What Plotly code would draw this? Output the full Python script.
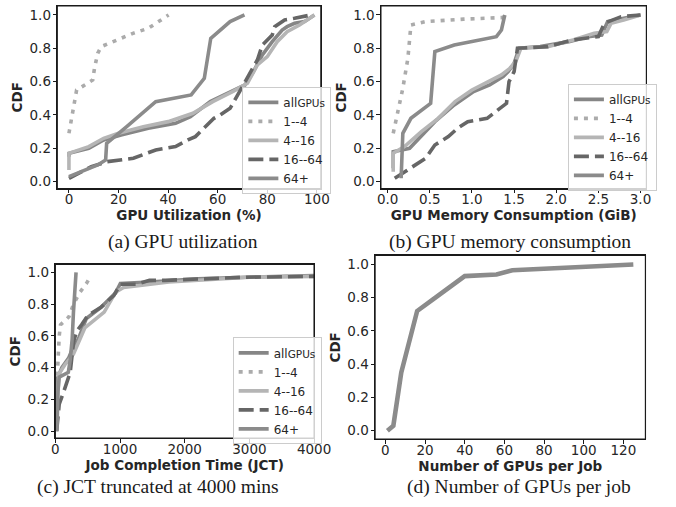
import plotly.graph_objects as go

# ---------------- data ----------------
series_names = ["all<span style='font-size:10.5px'>GPUs</span>", "1--4", "4--16", "16--64", "64+"]

# (a) GPU utilization (%)
a_all_x = [0, 0, 8, 14, 21, 32, 43, 49, 57, 65, 71, 74, 78, 82, 86, 88, 91, 95, 99]
a_all_y = [0.15, 0.17, 0.20, 0.25, 0.28, 0.32, 0.35, 0.39, 0.48, 0.54, 0.58, 0.65, 0.76, 0.84, 0.91, 0.93, 0.95, 0.96, 1.0]
a_1_4_x = [0, 1.8, 3.1, 6.4, 9.6, 10.3, 11.6, 13, 18, 25.8, 32, 40.2]
a_1_4_y = [0.29, 0.45, 0.55, 0.58, 0.61, 0.68, 0.77, 0.81, 0.84, 0.89, 0.92, 1.0]
a_4_16_x = [0, 0, 2, 8, 14, 20, 30, 40, 50, 58, 66, 72, 76, 80, 84, 88, 93, 99]
a_4_16_y = [0.07, 0.17, 0.18, 0.21, 0.26, 0.29, 0.33, 0.36, 0.41, 0.48, 0.54, 0.59, 0.70, 0.75, 0.84, 0.90, 0.94, 1.0]
a_16_64_x = [0, 9, 15.5, 26, 35, 43, 48, 51, 58.5, 61, 65, 68, 72, 76, 78, 82, 83, 87, 91, 97.5]
a_16_64_y = [0.02, 0.09, 0.12, 0.14, 0.19, 0.21, 0.25, 0.27, 0.38, 0.40, 0.44, 0.52, 0.62, 0.73, 0.82, 0.88, 0.93, 0.97, 0.98, 1.0]
a_64_x = [0, 11.6, 14.8, 15.2, 23.3, 35, 49.3, 51.3, 54.6, 57.2, 65, 70.8]
a_64_y = [0.03, 0.10, 0.13, 0.23, 0.33, 0.48, 0.52, 0.56, 0.62, 0.86, 0.96, 1.0]

# (b) GPU memory consumption (GiB)
b_all_x = [0.066, 0.066, 0.26, 0.56, 0.79, 1.02, 1.21, 1.37, 1.43, 1.50, 1.56, 1.81, 2.15, 2.38, 2.54, 2.61, 2.8, 3.0]
b_all_y = [0.08, 0.18, 0.20, 0.36, 0.46, 0.54, 0.58, 0.63, 0.66, 0.71, 0.80, 0.81, 0.84, 0.87, 0.88, 0.96, 0.98, 1.0]
b_1_4_x = [0.066, 0.12, 0.18, 0.24, 0.276, 0.45, 0.9, 1.37, 1.39]
b_1_4_y = [0.29, 0.42, 0.56, 0.74, 0.94, 0.96, 0.975, 0.985, 1.0]
b_4_16_x = [0.066, 0.066, 0.2, 0.4, 0.6, 0.8, 1.0, 1.2, 1.35, 1.45, 1.52, 1.58, 1.9, 2.2, 2.45, 2.6, 2.65, 2.8, 3.0]
b_4_16_y = [0.06, 0.17, 0.21, 0.30, 0.38, 0.48, 0.55, 0.60, 0.64, 0.68, 0.72, 0.80, 0.81, 0.85, 0.89, 0.90, 0.95, 0.97, 1.0]
b_16_64_x = [0.084, 0.18, 0.26, 0.45, 0.56, 0.72, 0.83, 0.95, 1.18, 1.33, 1.41, 1.44, 1.50, 1.54, 1.9, 2.19, 2.50, 2.57, 2.77, 3.0]
b_16_64_y = [0.02, 0.05, 0.08, 0.14, 0.22, 0.27, 0.32, 0.36, 0.38, 0.44, 0.47, 0.60, 0.66, 0.80, 0.81, 0.85, 0.87, 0.95, 0.99, 1.0]
b_64_x = [0.16, 0.18, 0.276, 0.51, 0.56, 0.79, 1.29, 1.35, 1.39]
b_64_y = [0.02, 0.29, 0.38, 0.47, 0.78, 0.82, 0.87, 0.91, 1.0]

# (c) JCT truncated at 4000 mins
c_all_x = [10, 30, 100, 205, 255, 355, 480, 705, 930, 1005, 1455, 2200, 2950, 4000]
c_all_y = [0.0, 0.33, 0.40, 0.46, 0.51, 0.58, 0.71, 0.78, 0.87, 0.93, 0.94, 0.96, 0.97, 0.98]
c_1_4_x = [30, 40, 50, 60, 80, 150, 210, 280, 380, 480, 550]
c_1_4_y = [0.35, 0.46, 0.53, 0.60, 0.67, 0.70, 0.72, 0.80, 0.875, 0.93, 0.98]
c_4_16_x = [10, 55, 150, 280, 455, 530, 755, 930, 1055, 1755, 2500, 3000, 4000]
c_4_16_y = [0.0, 0.36, 0.42, 0.485, 0.65, 0.675, 0.75, 0.875, 0.905, 0.94, 0.955, 0.97, 0.975]
c_16_64_x = [20, 60, 130, 205, 230, 280, 330, 405, 505, 705, 905, 1005, 1255, 1455, 1700, 2950, 4000]
c_16_64_y = [0.0, 0.17, 0.25, 0.34, 0.37, 0.56, 0.63, 0.67, 0.73, 0.78, 0.855, 0.925, 0.925, 0.95, 0.95, 0.97, 0.975]
c_64_x = [25, 40, 60, 200, 230, 260, 280, 300, 320]
c_64_y = [0.0, 0.25, 0.34, 0.37, 0.45, 0.58, 0.75, 0.92, 1.0]

# (d) Number of GPUs per job
d_x = [1, 4, 8, 16, 24, 32, 40, 56, 64, 125]
d_y = [0.0, 0.03, 0.35, 0.72, 0.79, 0.86, 0.93, 0.94, 0.965, 1.0]

x_titles = ["GPU Utilization (%)", "GPU Memory Consumption (GiB)",
            "Job Completion Time (JCT)", "Number of GPUs per Job"]
captions = ["(a) GPU utilization", "(b) GPU memory consumption",
            "(c) JCT truncated at 4000 mins", "(d) Number of GPUs per job"]

# ---------------- styles ----------------
W, H = 676, 507
LW = 3.6
styles = [
    dict(color="#868686", width=LW, dash="solid"),
    dict(color="#ababab", width=LW, dash="4px,6px"),
    dict(color="#b5b5b5", width=LW, dash="solid"),
    dict(color="#666666", width=LW, dash="15px,6px"),
    dict(color="#8b8b8b", width=LW, dash="solid"),
]

def dx(l, r):
    return [l / W, r / W]

def dy(t, b):
    return [(H - b) / H, (H - t) / H]

fig = go.Figure()

panels = [
    ("x", "y", "legend", [(a_all_x, a_all_y), (a_1_4_x, a_1_4_y), (a_4_16_x, a_4_16_y), (a_16_64_x, a_16_64_y), (a_64_x, a_64_y)]),
    ("x2", "y2", "legend2", [(b_all_x, b_all_y), (b_1_4_x, b_1_4_y), (b_4_16_x, b_4_16_y), (b_16_64_x, b_16_64_y), (b_64_x, b_64_y)]),
    ("x3", "y3", "legend3", [(c_all_x, c_all_y), (c_1_4_x, c_1_4_y), (c_4_16_x, c_4_16_y), (c_16_64_x, c_16_64_y), (c_64_x, c_64_y)]),
]
for xa, ya, lg, data in panels:
    for name, (xs, ys), st in zip(series_names, data, styles):
        fig.add_trace(go.Scatter(x=xs, y=ys, mode="lines", name=name, line=st,
                                 xaxis=xa, yaxis=ya, legend=lg, showlegend=True))

fig.add_trace(go.Scatter(x=d_x, y=d_y, mode="lines", line=dict(color="#8b8b8b", width=4.6),
                         xaxis="x4", yaxis="y4", showlegend=False))

TXT = "#262626"
AX = "#1a1a1a"
tickfont = dict(family="DejaVu Sans", size=13.5, color=TXT)
titlefont = dict(family="DejaVu Sans", size=13.5, color=TXT, weight="bold")

def xaxis(dom, rng, title, tickvals, fmt, anchor):
    return dict(domain=dom, range=rng, anchor=anchor, showline=True, mirror=True,
                linecolor=AX, linewidth=1.2, ticks="outside", ticklen=3.5, tickwidth=1.1,
                tickcolor=AX, showgrid=False, zeroline=False, ticklabelstandoff=-5,
                tickvals=tickvals, tickformat=fmt, tickfont=tickfont,
                title=dict(text=title, font=titlefont, standoff=0))

def yaxis(dom, rng, anchor):
    return dict(domain=dom, range=rng, anchor=anchor, showline=True, mirror=True,
                linecolor=AX, linewidth=1.2, ticks="outside", ticklen=3.5, tickwidth=1.1,
                tickcolor=AX, showgrid=False, zeroline=False, ticklabelstandoff=-1,
                tickvals=[0, 0.2, 0.4, 0.6, 0.8, 1.0], tickformat=".1f", tickfont=tickfont,
                title=dict(text="CDF", font=titlefont, standoff=3))

legend_common = dict(font=dict(family="DejaVu Sans", size=12, color=TXT),
                     bgcolor="rgba(255,255,255,0.8)", bordercolor="#cccccc", borderwidth=1,
                     itemwidth=30, tracegroupgap=0, xanchor="left", yanchor="top",
                     xref="paper", yref="paper")

fig.update_layout(
    width=W, height=H, margin=dict(l=0, r=0, t=0, b=0),
    paper_bgcolor="white", plot_bgcolor="white",
    xaxis=xaxis(dx(55, 327), [-4.7, 101.6], x_titles[0], [0, 20, 40, 60, 80, 100], "d", "y"),
    yaxis=yaxis(dy(6, 189), [-0.042, 1.054], "x"),
    xaxis2=xaxis(dx(389, 663), [-0.08, 3.07], x_titles[1], [0, 0.5, 1.0, 1.5, 2.0, 2.5, 3.0], ".1f", "y2"),
    yaxis2=yaxis(dy(6, 189), [-0.042, 1.054], "x2"),
    xaxis3=xaxis(dx(53, 320), [0, 4000], x_titles[2], [0, 1000, 2000, 3000, 4000], "d", "y3"),
    yaxis3=yaxis(dy(265, 439), [-0.044, 1.05], "x3"),
    xaxis4=xaxis(dx(383, 662), [-5.2, 131.1], x_titles[3], [0, 20, 40, 60, 80, 100, 120], "d", "y4"),
    yaxis4=yaxis(dy(256, 440), [-0.051, 1.054], "x4"),
    legend=dict(legend_common, x=246 / W, y=(H - 87) / H),
    legend2=dict(legend_common, x=582 / W, y=(H - 84) / H),
    legend3=dict(legend_common, x=236 / W, y=(H - 338) / H),
)

# frame around each plotting area
for xr, yr in [("x", "y"), ("x2", "y2"), ("x3", "y3"), ("x4", "y4")]:
    fig.add_shape(type="rect", xref=f"{xr} domain", yref=f"{yr} domain",
                  x0=0, x1=1, y0=0, y1=1, line=dict(color=AX, width=1.2), layer="above")

cap_pos = [(185, 242), (522, 242), (159, 488), (531, 488)]
for text, (cx, cy) in zip(captions, cap_pos):
    fig.add_annotation(text=text, x=cx / W, y=(H - cy) / H, xref="paper", yref="paper",
                       showarrow=False, xanchor="center", yanchor="middle",
                       font=dict(family="Liberation Serif", size=19.5, color="#1a1a1a"))

fig.write_html("out.html")
